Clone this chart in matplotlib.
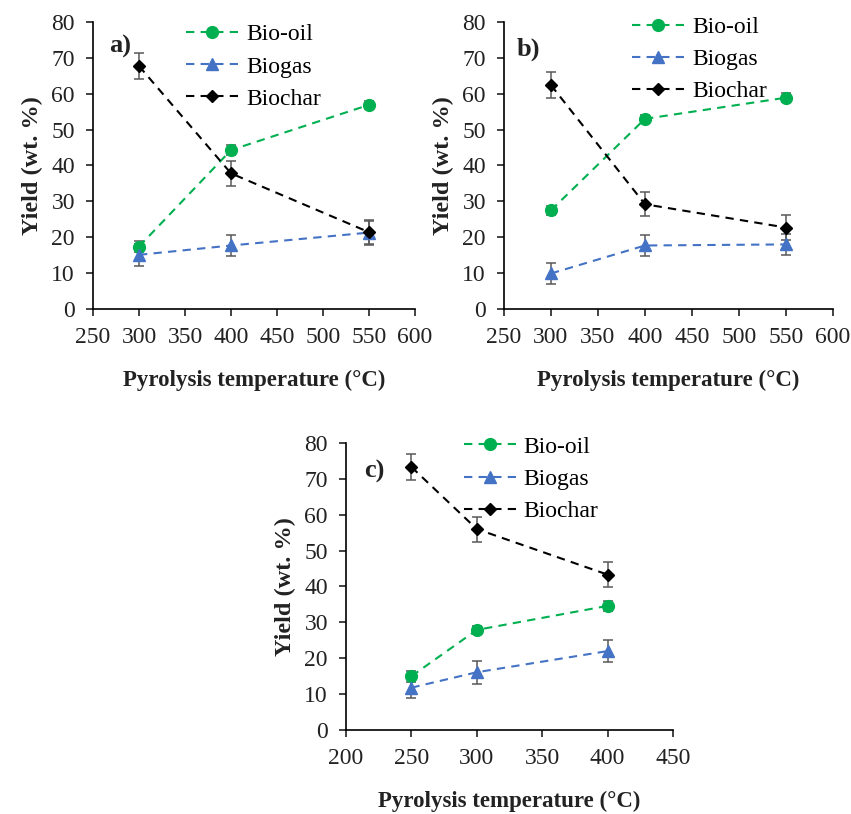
import numpy as np
import matplotlib
matplotlib.use("Agg")
import matplotlib.pyplot as plt

plt.rcParams['font.family'] = ['Liberation Serif', 'DejaVu Serif']

# temperatures (°C)
temp_ab = [300, 400, 550]
temp_c = [250, 300, 400]

# yields (wt. %) and standard deviations
a_oil = [17.4, 44.3, 56.9]
a_oil_err = [1.5, 1.5, 1.2]
a_gas = [15.1, 17.7, 21.3]
a_gas_err = [3.0, 3.0, 3.2]
a_char = [67.7, 37.8, 21.4]
a_char_err = [3.6, 3.5, 3.5]

b_oil = [27.5, 53.0, 58.9]
b_oil_err = [1.2, 1.2, 1.2]
b_gas = [9.9, 17.7, 18.0]
b_gas_err = [3.0, 3.0, 3.0]
b_char = [62.4, 29.2, 22.7]
b_char_err = [3.6, 3.4, 3.5]

c_oil = [15.0, 27.9, 34.6]
c_oil_err = [1.5, 1.2, 1.3]
c_gas = [11.8, 16.1, 22.0]
c_gas_err = [3.0, 3.2, 3.1]
c_char = [73.3, 56.0, 43.3]
c_char_err = [3.5, 3.5, 3.5]

series = ['Bio-oil', 'Biogas', 'Biochar']
colors = ['#00B050', '#4472C4', '#000000']
markers = ['o', '^', 'D']
msizes = [8.5, 8.5, 6.5]


def panel(ax, x, ys, errs, tag, xticks, leg_x, leg_y):
    for name, y, e, c, m, ms in zip(series, ys, errs, colors, markers, msizes):
        ax.errorbar(x, y, yerr=e, color=c, marker=m, markersize=ms,
                    linestyle=(0, (4, 3)), linewidth=1.5, ecolor='#595959',
                    elinewidth=1.1, capsize=3.5, capthick=1.1, label=name)
    ax.set_ylim(0, 80)
    ax.set_yticks(np.arange(0, 81, 10))
    ax.set_xlim(xticks[0], xticks[-1])
    ax.set_xticks(xticks)
    for s in ['top', 'right']:
        ax.spines[s].set_visible(False)
    for s in ['left', 'bottom']:
        ax.spines[s].set_linewidth(1.2)
    ax.tick_params(axis='both', labelsize=17, length=5, width=1.2,
                   colors='#222222', labelcolor='#222222')
    ax.tick_params(axis='x', pad=8)
    ax.tick_params(axis='y', pad=8)
    ax.set_xlabel('Pyrolysis temperature (°C)', fontsize=16.5,
                  fontweight='bold', labelpad=16, color='#222222')
    ax.set_ylabel('Yield (wt. %)', fontsize=17.5, fontweight='bold',
                  labelpad=6, color='#222222')
    ax.text(tag[1], tag[2], tag[0], transform=ax.transAxes, fontsize=19,
            fontweight='bold', ha='center', va='center', color='#222222')
    handles, labels = ax.get_legend_handles_labels()
    handles = [h[0] for h in handles]
    ax.legend(handles, labels, loc='upper left', bbox_to_anchor=(leg_x, leg_y),
              frameon=False, fontsize=17, handlelength=2.2,
              handletextpad=0.35, labelspacing=0.45, borderaxespad=0,
              borderpad=0.2)


fig = plt.figure(figsize=(8.51, 8.14), dpi=100)
ax1 = fig.add_axes([0.1093, 0.6204, 0.3784, 0.3526])
ax2 = fig.add_axes([0.5922, 0.6204, 0.3866, 0.3526])
ax3 = fig.add_axes([0.4066, 0.1032, 0.3843, 0.3526])

panel(ax1, temp_ab, [a_oil, a_gas, a_char], [a_oil_err, a_gas_err, a_char_err],
      ('a)', 0.085, 0.915), np.arange(250, 601, 50), 0.275, 1.01)
panel(ax2, temp_ab, [b_oil, b_gas, b_char], [b_oil_err, b_gas_err, b_char_err],
      ('b)', 0.075, 0.905), np.arange(250, 601, 50), 0.375, 1.035)
panel(ax3, temp_c, [c_oil, c_gas, c_char], [c_oil_err, c_gas_err, c_char_err],
      ('c)', 0.085, 0.90), np.arange(200, 451, 50), 0.345, 1.04)

fig.savefig('out.png', dpi=100)
